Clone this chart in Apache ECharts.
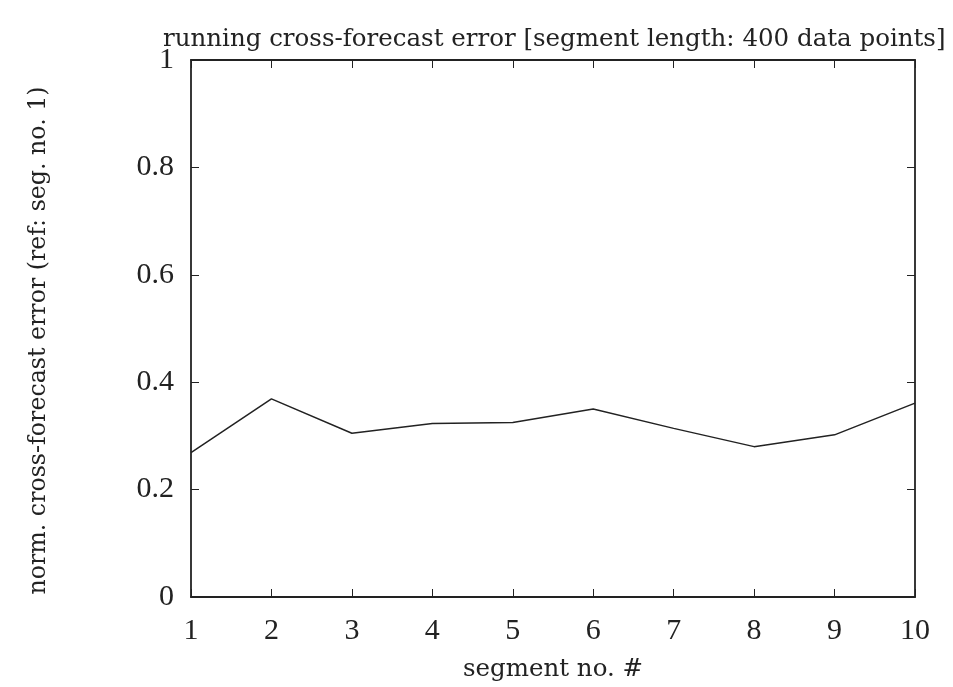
<!DOCTYPE html>
<html>
<head>
<meta charset="utf-8">
<script src="https://cdn.jsdelivr.net/npm/echarts@6/dist/echarts.min.js"></script>
<style>
  html, body { margin: 0; padding: 0; background: #fff; }
  #chart { width: 953px; height: 687px; }
</style>
</head>
<body>
<div id="chart"></div>
<script>
// Segment numbers and the normalised cross-forecast error for each segment
const segments = [1, 2, 3, 4, 5, 6, 7, 8, 9, 10];
const errors = [0.269, 0.369, 0.305, 0.323, 0.325, 0.350, 0.314, 0.280, 0.302, 0.361];

const TEXT_FONT = '"DejaVu Serif", "Liberation Serif", serif';
const NUM_FONT = '"Liberation Serif", "DejaVu Serif", serif';
const INK = '#222';

const chart = echarts.init(document.getElementById('chart'), null, { renderer: 'canvas' });

const tickStyle = { show: true, inside: true, length: 8, lineStyle: { color: INK, width: 1 } };
const frameLine = { show: true, onZero: false, lineStyle: { color: INK, width: 1.8 } };

chart.setOption({
  animation: false,
  backgroundColor: '#fff',
  title: {
    text: 'running cross-forecast error [segment length: 400 data points]',
    left: 158,
    top: 22,
    textStyle: { fontFamily: TEXT_FONT, fontSize: 24.5, fontWeight: 'normal', color: INK }
  },
  grid: { left: 191, top: 60, width: 724, height: 543, containLabel: false },
  xAxis: [
    {
      type: 'value', min: 1, max: 10, interval: 1, position: 'bottom',
      name: 'segment no. #', nameLocation: 'middle', nameGap: 60,
      nameTextStyle: { fontFamily: TEXT_FONT, fontSize: 24.5, color: INK },
      axisLine: frameLine, axisTick: tickStyle,
      axisLabel: { fontFamily: NUM_FONT, fontSize: 30, color: INK, margin: 19 },
      splitLine: { show: false }
    },
    {
      type: 'value', min: 1, max: 10, interval: 1, position: 'top',
      axisLine: frameLine, axisTick: tickStyle,
      axisLabel: { show: false }, splitLine: { show: false }
    }
  ],
  yAxis: [
    {
      type: 'value', min: 0, max: 1, interval: 0.2, position: 'left',
      name: 'norm. cross-forecast error (ref: seg. no. 1)', nameLocation: 'middle', nameGap: 140,
      nameTextStyle: { fontFamily: TEXT_FONT, fontSize: 23.7, color: INK, padding: [0, 24, 0, 0] },
      axisLine: frameLine, axisTick: tickStyle,
      axisLabel: {
        fontFamily: NUM_FONT, fontSize: 30, color: INK, margin: 17,
        formatter: v => String(Math.round(v * 10) / 10)
      },
      splitLine: { show: false }
    },
    {
      type: 'value', min: 0, max: 1, interval: 0.2, position: 'right',
      axisLine: frameLine, axisTick: tickStyle,
      axisLabel: { show: false }, splitLine: { show: false }
    }
  ],
  series: [
    {
      type: 'line',
      xAxisIndex: 0, yAxisIndex: 0,
      data: segments.map((s, i) => [s, errors[i]]),
      showSymbol: false,
      lineStyle: { color: INK, width: 1.5 }
    }
  ]
});
</script>
</body>
</html>
